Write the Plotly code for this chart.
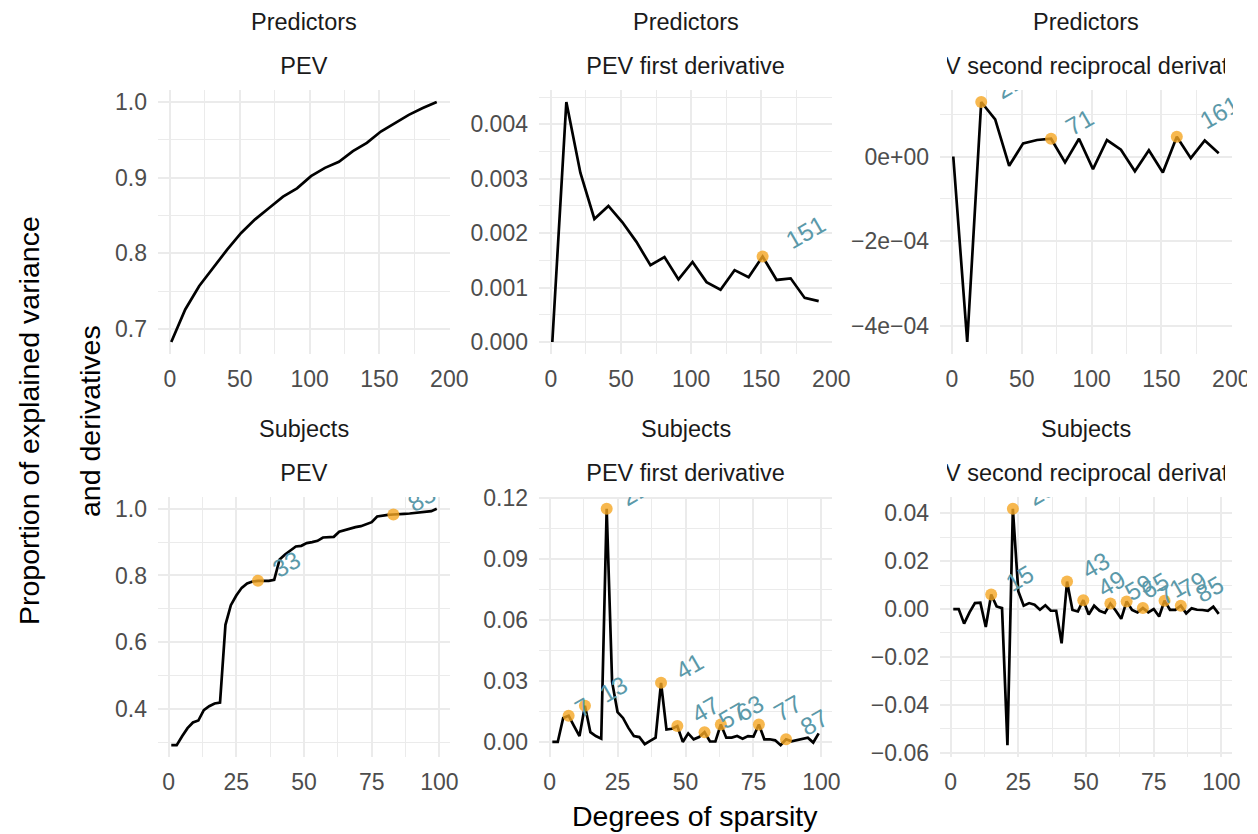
import math
import plotly.graph_objects as go

# ---------------- data ----------------
groups = ["Predictors", "Subjects"]
metrics = ["PEV", "PEV first derivative", "PEV second reciprocal derivative"]

pred_x = [1, 11, 21, 31, 41, 51, 61, 71, 81, 91, 101, 111, 121, 131, 141, 151, 161, 171, 181, 191]
pred_pev = [0.683, 0.726, 0.757, 0.781, 0.805, 0.827, 0.845, 0.860, 0.875, 0.886,
            0.902, 0.913, 0.921, 0.935, 0.946, 0.961, 0.972, 0.983, 0.992, 1.000]
pred_d1 = [0.0, 0.00441, 0.00311, 0.00226, 0.00250, 0.00220, 0.00184, 0.00141, 0.00156, 0.00115,
           0.00147, 0.00110, 0.00096, 0.00132, 0.00119, 0.00157, 0.00114, 0.00117, 0.00081, 0.00075]
pred_d2 = [0.0, -4.39e-4, 1.29e-4, 8.8e-5, -2.2e-5, 3.1e-5, 3.9e-5, 4.2e-5, -1.4e-5, 4.2e-5,
           -3.0e-5, 3.9e-5, 1.6e-5, -3.5e-5, 1.5e-5, -3.8e-5, 4.7e-5, -4e-6, 3.8e-5, 8e-6]
pred_pev_peaks = []
pred_d1_peaks = [151]
pred_d2_peaks = [21, 71, 161]

subj_x = [1, 3, 5, 7, 9, 11, 13, 15, 17, 19, 21, 23, 25, 27, 29, 31, 33, 35, 37, 39,
          41, 43, 45, 47, 49, 51, 53, 55, 57, 59, 61, 63, 65, 67, 69, 71, 73, 75, 77, 79,
          81, 83, 85, 87, 89, 91, 93, 95, 97, 99]
subj_pev = [0.291, 0.291, 0.318, 0.342, 0.359, 0.365, 0.396, 0.408, 0.416, 0.419,
            0.652, 0.711, 0.740, 0.763, 0.776, 0.782, 0.784, 0.784, 0.784, 0.787,
            0.848, 0.863, 0.875, 0.887, 0.889, 0.897, 0.900, 0.904, 0.914, 0.915,
            0.916, 0.931, 0.936, 0.940, 0.945, 0.948, 0.953, 0.960, 0.977, 0.980,
            0.982, 0.983, 0.983, 0.985, 0.986, 0.988, 0.990, 0.992, 0.993, 1.000]
subj_d1 = [0.0, 0.0, 0.0118, 0.0129, 0.0078, 0.0029, 0.0178, 0.0048, 0.0029, 0.0016,
           0.1147, 0.0295, 0.0147, 0.0118, 0.0069, 0.0029, 0.0024, -0.0011, 0.0005, 0.0021,
           0.0291, 0.0061, 0.0065, 0.0078, 0.0, 0.0042, 0.0013, 0.0024, 0.0048, 0.0002,
           0.0002, 0.0086, 0.0021, 0.0021, 0.0029, 0.0016, 0.0029, 0.0026, 0.0086, 0.0013,
           0.0013, 0.0008, -0.0016, 0.0013, 0.0003, 0.0010, 0.0016, 0.0021, -0.0003, 0.0042]
subj_d2 = [0.0, 0.0, -0.0061, -0.0014, 0.0025, 0.0027, -0.0075, 0.0061, 0.0011, 0.0004,
           -0.0569, 0.0419, 0.0075, 0.0014, 0.0025, 0.0018, -0.0003, 0.0016, -0.0007, -0.0007,
           -0.0143, 0.0115, -0.0004, -0.0010, 0.0037, -0.0023, 0.0014, -0.0007, -0.0016, 0.0023,
           -0.0007, -0.0041, 0.0032, -0.0004, -0.0014, 0.0004, -0.0014, 0.0, -0.0031, 0.0035,
           -0.0003, -0.0003, 0.0014, -0.0018, 0.0003, -0.0003, -0.0004, -0.0007, 0.0010, -0.0020]
subj_pev_peaks = [33, 83]
subj_d1_peaks = [7, 13, 21, 41, 47, 57, 63, 77, 87]
subj_d2_peaks = [15, 23, 43, 49, 59, 65, 71, 79, 85]

pred_x_ticks = [0, 50, 100, 150, 200]
subj_x_ticks = [0, 25, 50, 75, 100]
pred_pev_yticks = [0.7, 0.8, 0.9, 1.0]
pred_pev_ylabels = ["0.7", "0.8", "0.9", "1.0"]
pred_d1_yticks = [0.000, 0.001, 0.002, 0.003, 0.004]
pred_d1_ylabels = ["0.000", "0.001", "0.002", "0.003", "0.004"]
pred_d2_yticks = [-4e-4, -2e-4, 0.0]
pred_d2_ylabels = ["\u22124e\u221204", "\u22122e\u221204", "0e+00"]
subj_pev_yticks = [0.4, 0.6, 0.8, 1.0]
subj_pev_ylabels = ["0.4", "0.6", "0.8", "1.0"]
subj_d1_yticks = [0.00, 0.03, 0.06, 0.09, 0.12]
subj_d1_ylabels = ["0.00", "0.03", "0.06", "0.09", "0.12"]
subj_d2_yticks = [-0.06, -0.04, -0.02, 0.00, 0.02, 0.04]
subj_d2_ylabels = ["\u22120.06", "\u22120.04", "\u22120.02", "0.00", "0.02", "0.04"]

x_title = "Degrees of sparsity"
y_title_1 = "Proportion of explained variance"
y_title_2 = "and derivatives"

# ---------------- style ----------------
PAGE_W, PAGE_H = 1258, 834
OFF = 0  # body margin removed by post_script
W, H = PAGE_W - 2 * OFF, PAGE_H - 2 * OFF
FONT = "Liberation Sans, Arial, Helvetica, sans-serif"
TICK_FS = 23
STRIP_FS = 23.5
TITLE_FS = 28.5
LABEL_FS = 24.5
GRID = "#EBEBEB"
TICK_COL = "#4D4D4D"
STRIP_COL = "#1A1A1A"
POINT_COL = "rgba(245,166,35,0.8)"
LABEL_COL = "#5B99A9"

# panel boxes in page pixels
col_px = [(158, 450), (539, 832), (940, 1232)]
row_px = [(90, 354), (497, 757)]


def px_x(p):
    return (p - OFF) / W


def px_y(p):
    return 1 - (p - OFF) / H


panels = [
    dict(g=0, m=0, x=pred_x, y=pred_pev, pk=pred_pev_peaks, xt=pred_x_ticks, yt=pred_pev_yticks, yl=pred_pev_ylabels),
    dict(g=0, m=1, x=pred_x, y=pred_d1, pk=pred_d1_peaks, xt=pred_x_ticks, yt=pred_d1_yticks, yl=pred_d1_ylabels),
    dict(g=0, m=2, x=pred_x, y=pred_d2, pk=pred_d2_peaks, xt=pred_x_ticks, yt=pred_d2_yticks, yl=pred_d2_ylabels),
    dict(g=1, m=0, x=subj_x, y=subj_pev, pk=subj_pev_peaks, xt=subj_x_ticks, yt=subj_pev_yticks, yl=subj_pev_ylabels),
    dict(g=1, m=1, x=subj_x, y=subj_d1, pk=subj_d1_peaks, xt=subj_x_ticks, yt=subj_d1_yticks, yl=subj_d1_ylabels),
    dict(g=1, m=2, x=subj_x, y=subj_d2, pk=subj_d2_peaks, xt=subj_x_ticks, yt=subj_d2_yticks, yl=subj_d2_ylabels),
]


def expand(vals):
    lo, hi = min(vals), max(vals)
    d = (hi - lo) * 0.05
    return [lo - d, hi + d]


def minors(ticks, rng):
    step = ticks[1] - ticks[0]
    cand = [ticks[0] - step / 2] + [t + step / 2 for t in ticks]
    return [c for c in cand if rng[0] <= c <= rng[1]]


fig = go.Figure()
layout = dict(
    width=W, height=H, margin=dict(l=0, r=0, t=0, b=0, autoexpand=False),
    paper_bgcolor="white", plot_bgcolor="white", showlegend=False,
    font=dict(family=FONT),
)

label_anns = []
strip_anns = []
ang = math.radians(30)

for i, p in enumerate(panels):
    k = i + 1
    sx = "" if k == 1 else str(k)
    c0, c1 = col_px[p["m"]]
    r0, r1 = row_px[p["g"]]
    xr = expand(p["x"])
    yr = expand(p["y"])
    layout["xaxis" + sx] = dict(
        domain=[px_x(c0), px_x(c1)], anchor="y" + sx, range=xr,
        tickmode="array", tickvals=p["xt"], ticktext=[str(t) for t in p["xt"]],
        showgrid=True, gridcolor=GRID, gridwidth=2.2, zeroline=False, showline=False,
        ticks="", ticklabelstandoff=9, automargin=False, ticklabeloverflow="allow",
        tickfont=dict(size=TICK_FS, color=TICK_COL, family=FONT),
        minor=dict(tickmode="array", tickvals=minors(p["xt"], xr), showgrid=True,
                   gridcolor=GRID, gridwidth=1.1),
    )
    layout["yaxis" + sx] = dict(
        domain=[px_y(r1), px_y(r0)], anchor="x" + sx, range=yr,
        tickmode="array", tickvals=p["yt"], ticktext=p["yl"],
        showgrid=True, gridcolor=GRID, gridwidth=2.2, zeroline=False, showline=False,
        ticks="", ticklabelstandoff=10, automargin=False, ticklabeloverflow="allow",
        tickfont=dict(size=TICK_FS, color=TICK_COL, family=FONT),
        minor=dict(tickmode="array", tickvals=minors(p["yt"], yr), showgrid=True,
                   gridcolor=GRID, gridwidth=1.1),
    )
    fig.add_trace(go.Scatter(x=p["x"], y=p["y"], mode="lines",
                             line=dict(color="black", width=2.7),
                             xaxis="x" + sx, yaxis="y" + sx, hoverinfo="skip"))
    px_ = [x for x in p["pk"]]
    py_ = [p["y"][p["x"].index(x)] for x in p["pk"]]
    if px_:
        fig.add_trace(go.Scatter(x=px_, y=py_, mode="markers",
                                 marker=dict(size=12, color=POINT_COL, line=dict(width=0)),
                                 xaxis="x" + sx, yaxis="y" + sx, hoverinfo="skip"))
    for xv, yv in zip(px_, py_):
        txt = str(xv)
        d = 1.2 * len(txt) * 0.556 * LABEL_FS
        label_anns.append(dict(
            x=xv, y=yv, xref="x" + sx, yref="y" + sx, text=txt, showarrow=False,
            textangle=-30, xanchor="center", yanchor="middle",
            xshift=d * math.cos(ang), yshift=d * math.sin(ang),
            font=dict(size=LABEL_FS, color=LABEL_COL, family=FONT),
        ))
    cx = px_x((c0 + c1) / 2)
    strip_anns.append(dict(
        x=cx, y=px_y(r0 - 68), xref="paper", yref="paper", text=groups[p["g"]],
        showarrow=False, xanchor="center", yanchor="middle",
        font=dict(size=STRIP_FS, color=STRIP_COL, family=FONT),
    ))
    strip_anns.append(dict(
        x=cx, y=px_y(r0 - 24), xref="paper", yref="paper", text=metrics[p["m"]],
        showarrow=False, xanchor="center", yanchor="middle", align="center",
        width=c1 - c0 - 14, borderpad=0,
        font=dict(size=STRIP_FS, color=STRIP_COL, family=FONT),
    ))


def white_box(x0, y0, x1, y1):
    return dict(x=px_x(x0), y=px_y(y0), xref="paper", yref="paper", text=" ",
                showarrow=False, xanchor="left", yanchor="top",
                width=x1 - x0, height=y1 - y0, borderpad=0, borderwidth=0,
                bgcolor="white", font=dict(size=2))


# clip label overflow outside panels (like ggplot clipping)
boxes = []
for (c0, c1) in col_px:
    boxes.append(white_box(c0 - 2, max(OFF, 2), c1 + 8, row_px[0][0] - 0.5))
    boxes.append(white_box(c0 - 2, 395, c1 + 8, row_px[1][0] - 0.5))
boxes.append(white_box(col_px[2][1] + 0.5, max(OFF, 2), PAGE_W - OFF, 362))
boxes.append(white_box(1247, 362, PAGE_W - OFF, 400))

titles = [
    dict(x=px_x((col_px[0][0] + col_px[2][1]) / 2), y=px_y(816), xref="paper", yref="paper",
         text=x_title, showarrow=False, xanchor="center", yanchor="middle",
         font=dict(size=TITLE_FS, color="black", family=FONT)),
    dict(x=px_x(29), y=px_y(421), xref="paper", yref="paper", text=y_title_1,
         showarrow=False, textangle=-90, xanchor="center", yanchor="middle",
         font=dict(size=TITLE_FS, color="black", family=FONT)),
    dict(x=px_x(90), y=px_y(421), xref="paper", yref="paper", text=y_title_2,
         showarrow=False, textangle=-90, xanchor="center", yanchor="middle",
         font=dict(size=TITLE_FS, color="black", family=FONT)),
]

layout["annotations"] = label_anns + boxes + strip_anns + titles
fig.update_layout(**layout)
fig.write_html("out.html", config={"displayModeBar": False},
               post_script="document.body.style.margin='0';")
